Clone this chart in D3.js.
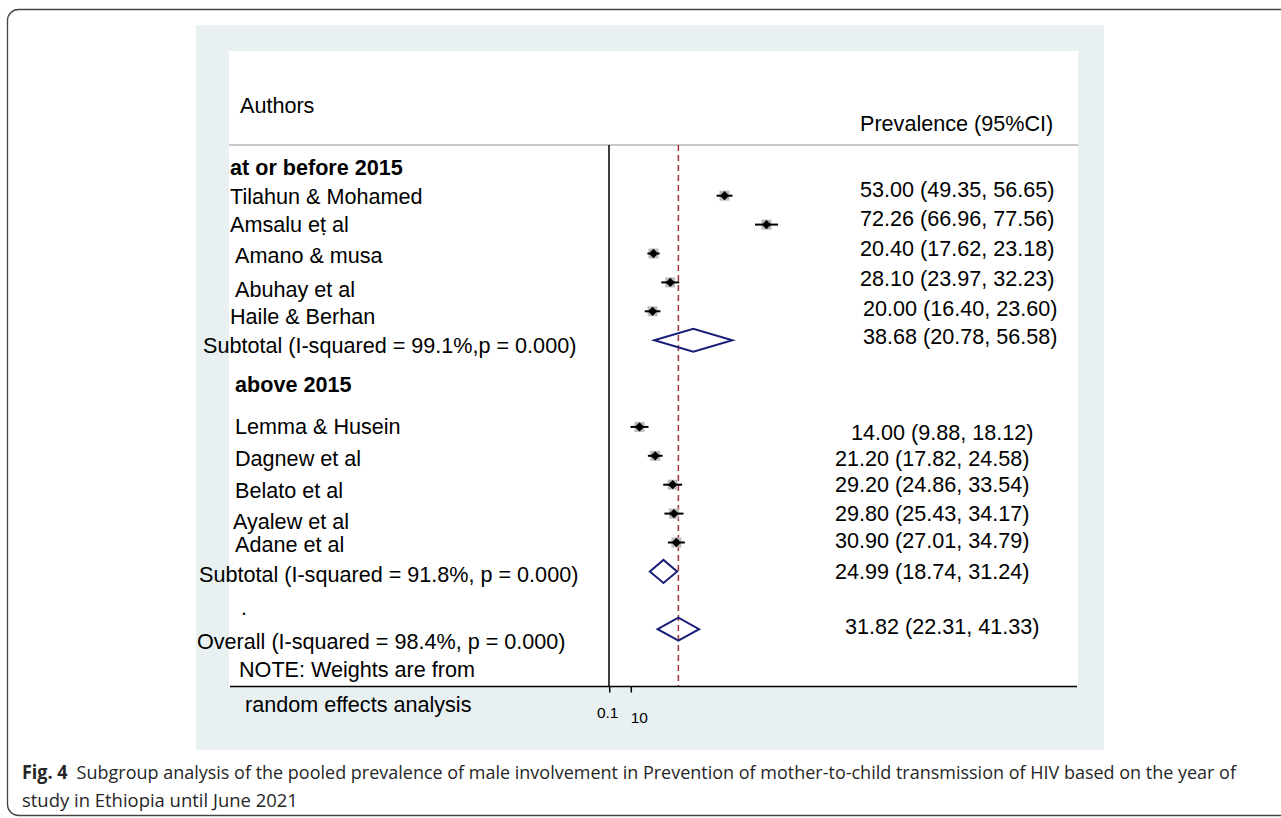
<!DOCTYPE html>
<html>
<head>
<meta charset="utf-8">
<script src="https://cdn.jsdelivr.net/npm/d3@7"></script>
<style>
  html, body { margin: 0; padding: 0; background: #fff; }
  svg { display: block; }
  .lbl { font-family: "Liberation Sans", Arial, sans-serif; font-size: 21.6px; fill: #000; }
  .cap { font-family: "Open Sans", "Noto Sans", sans-serif; font-size: 19px; fill: #262626; }
</style>
</head>
<body>
<svg id="chart" width="1281" height="818"></svg>
<script>
/* global d3 */

// ---- data ----
var groupTitles = ['at or before 2015', 'above 2015']
var studies = [
  'Tilahun & Mohamed', 'Amsalu eṭ al', 'Amano & musa', 'Abuhay et al', 'Haile & Berhan',
  'Lemma & Husein', 'Dagnew et al', 'Belato et al', 'Ayalew et al', 'Adane et al'
]
var est = [53.00, 72.26, 20.40, 28.10, 20.00, 14.00, 21.20, 29.20, 29.80, 30.90]
var lo = [49.35, 66.96, 17.62, 23.97, 16.40, 9.88, 17.82, 24.86, 25.43, 27.01]
var hi = [56.65, 77.56, 23.18, 32.23, 23.60, 18.12, 24.58, 33.54, 34.17, 34.79]

var pooledLabels = [
  'Subtotal (I-squared = 99.1%,p = 0.000)',
  'Subtotal (I-squared = 91.8%, p = 0.000)',
  'Overall (I-squared = 98.4%, p = 0.000)'
]
var pooledEst = [38.68, 24.99, 31.82]
var pooledLo = [20.78, 18.74, 22.31]
var pooledHi = [56.58, 31.24, 41.33]

var tickValues = [0.1, 10]

var captionLines = [
  'Subgroup analysis of the pooled prevalence of male involvement in Prevention of mother-to-child transmission of HIV based on the year of',
  'study in Ethiopia until June 2021'
]

// ---- layout (row slots, label nudges copied from the figure) ----
var studyRow = [0, 1, 2, 3, 4, 8, 9, 10, 11, 12]
var pooledRow = [5, 13, 15]
var studyLeft = [[230, 1], [230, 0], [235, 1.5], [235, 6.6], [230, 4.7],
  [235, -1], [235, 2], [235, 6], [233, 7.4], [235, 1.5]]
var studyRight = [[860, -6.7], [860, -6.6], [860, -5.5], [860, -4.4], [863, -3.3],
  [851, 5], [835, 2], [835, 0], [835, 0], [835, -2.5]]
var pooledLeft = [[203, 4.8], [199, 2.6], [197, 12]]
var pooledRight = [[863, -4.2], [835, 0], [845, -3]]

var fmt = d3.format('.2f')
var ci = (e, l, h) => `${fmt(e)} (${fmt(l)}, ${fmt(h)})`

var svg = d3.select('#chart')

// frame
svg.append('rect')
    .attr('x', 7.5).attr('y', 9.5)
    .attr('width', 1300).attr('height', 806)
    .attr('rx', 11)
    .attr('fill', 'none')
    .attr('stroke', '#444')
    .attr('stroke-width', 1.3)

svg.append('rect')
    .attr('x', 196).attr('y', 25)
    .attr('width', 908).attr('height', 725)
    .attr('fill', '#e8f0f2')

svg.append('rect')
    .attr('x', 229).attr('y', 51)
    .attr('width', 849).attr('height', 636)
    .attr('fill', '#fff')

var x = d3.scaleLinear().domain([0, 100]).range([609, 827])
var y = d3.scaleLinear().domain([0, 15]).range([195.7, 629.2])

var plotTop = 145
var plotBottom = 686.5

// header
svg.append('line')
    .attr('x1', 229).attr('x2', 1078)
    .attr('y1', plotTop).attr('y2', plotTop)
    .attr('stroke', '#c8c8c8').attr('stroke-width', 2)

svg.append('text').attr('class', 'lbl')
    .attr('x', 240).attr('y', 113).text('Authors')
svg.append('text').attr('class', 'lbl')
    .attr('x', 860).attr('y', 131).text('Prevalence (95%CI)')

// null line and axis
svg.append('line')
    .attr('x1', x(0)).attr('x2', x(0))
    .attr('y1', plotTop).attr('y2', plotBottom)
    .attr('stroke', '#000').attr('stroke-width', 1.5)

svg.append('line')
    .attr('x1', x(pooledEst[2])).attr('x2', x(pooledEst[2]))
    .attr('y1', plotTop).attr('y2', plotBottom)
    .attr('stroke', '#a8323c').attr('stroke-width', 1.5)
    .attr('stroke-dasharray', '6,4')

svg.append('line')
    .attr('x1', 230).attr('x2', 1077)
    .attr('y1', plotBottom).attr('y2', plotBottom)
    .attr('stroke', '#000').attr('stroke-width', 1.6)

var axis = svg.append('g')
    .attr('transform', `translate(0, ${plotBottom})`)
    .call(d3.axisBottom(x).tickValues(tickValues).tickSize(6).tickFormat(d3.format('')))
axis.select('.domain').remove()
axis.selectAll('.tick line').attr('stroke-width', 1.5)
axis.selectAll('.tick text')
    .style('font-family', '"Liberation Sans", Arial, sans-serif')
    .style('font-size', '15.5px')
    .attr('fill', '#000')
    .attr('dy', (d, i) => i === 0 ? 22 : 27)
    .attr('dx', (d, i) => i === 0 ? -2 : 8)

// group titles
svg.append('text').attr('class', 'lbl')
    .attr('x', 230).attr('y', 175)
    .style('font-weight', 'bold')
    .text(groupTitles[0])
svg.append('text').attr('class', 'lbl')
    .attr('x', 235).attr('y', 392)
    .style('font-weight', 'bold')
    .text(groupTitles[1])

// study rows
var rows = svg.append('g').selectAll('g')
    .data(studies)
    .join('g')

rows.append('text').attr('class', 'lbl')
    .attr('x', (d, i) => studyLeft[i][0])
    .attr('y', (d, i) => y(studyRow[i]) + studyLeft[i][1])
    .attr('dy', '0.36em')
    .text(d => d)

rows.append('text').attr('class', 'lbl')
    .attr('x', (d, i) => studyRight[i][0])
    .attr('y', (d, i) => y(studyRow[i]) + studyRight[i][1])
    .attr('dy', '0.36em')
    .text((d, i) => ci(est[i], lo[i], hi[i]))

rows.append('rect')
    .attr('x', (d, i) => x(est[i]) - 5)
    .attr('y', (d, i) => y(studyRow[i]) - 5)
    .attr('width', 10).attr('height', 10)
    .attr('fill', '#bcbcbc')

rows.append('line')
    .attr('x1', (d, i) => x(lo[i]))
    .attr('x2', (d, i) => x(hi[i]))
    .attr('y1', (d, i) => y(studyRow[i]))
    .attr('y2', (d, i) => y(studyRow[i]))
    .attr('stroke', '#000').attr('stroke-width', 2)

rows.append('path')
    .attr('transform', (d, i) => `translate(${x(est[i])}, ${y(studyRow[i])})`)
    .attr('d', d3.symbol(d3.symbolDiamond2, 55))
    .attr('fill', '#000')

// pooled rows
var pooled = svg.append('g').selectAll('g')
    .data(pooledLabels)
    .join('g')

pooled.append('text').attr('class', 'lbl')
    .attr('x', (d, i) => pooledLeft[i][0])
    .attr('y', (d, i) => y(pooledRow[i]) + pooledLeft[i][1])
    .attr('dy', '0.36em')
    .text(d => d)

pooled.append('text').attr('class', 'lbl')
    .attr('x', (d, i) => pooledRight[i][0])
    .attr('y', (d, i) => y(pooledRow[i]) + pooledRight[i][1])
    .attr('dy', '0.36em')
    .text((d, i) => ci(pooledEst[i], pooledLo[i], pooledHi[i]))

pooled.append('path')
    .attr('d', (d, i) => {
      var cy = y(pooledRow[i])
      var h = 11.5
      return `M${x(pooledLo[i])},${cy}L${x(pooledEst[i])},${cy - h}` +
        `L${x(pooledHi[i])},${cy}L${x(pooledEst[i])},${cy + h}Z`
    })
    .attr('fill', 'none')
    .attr('stroke', '#1a1f7a')
    .attr('stroke-width', 2)

// stray dot and notes
svg.append('text').attr('class', 'lbl')
    .attr('x', 241).attr('y', y(14) + 7).attr('dy', '0.36em').text('.')
svg.append('text').attr('class', 'lbl')
    .attr('x', 239).attr('y', 669).attr('dy', '0.36em').text('NOTE: Weights are from')
svg.append('text').attr('class', 'lbl')
    .attr('x', 245).attr('y', 704).attr('dy', '0.36em').text('random effects analysis')

// caption: squeeze horizontally (Myriad-like width) with a scale transform
function caption (yPos, width, parts) {
  var g = svg.append('g').attr('transform', `translate(22, ${yPos})`)
  var t = g.append('text').attr('class', 'cap')
  parts.forEach(p => {
    t.append('tspan').style('font-weight', p.bold ? 'bold' : null).text(p.text)
  })
  var w = t.node().getComputedTextLength()
  t.attr('transform', `scale(${width / w}, 1)`)
}
caption(779, 1214, [{text: 'Fig. 4', bold: true}, {text: '\u2002' + captionLines[0]}])
caption(807, 276, [{text: captionLines[1]}])
</script>
</body>
</html>
